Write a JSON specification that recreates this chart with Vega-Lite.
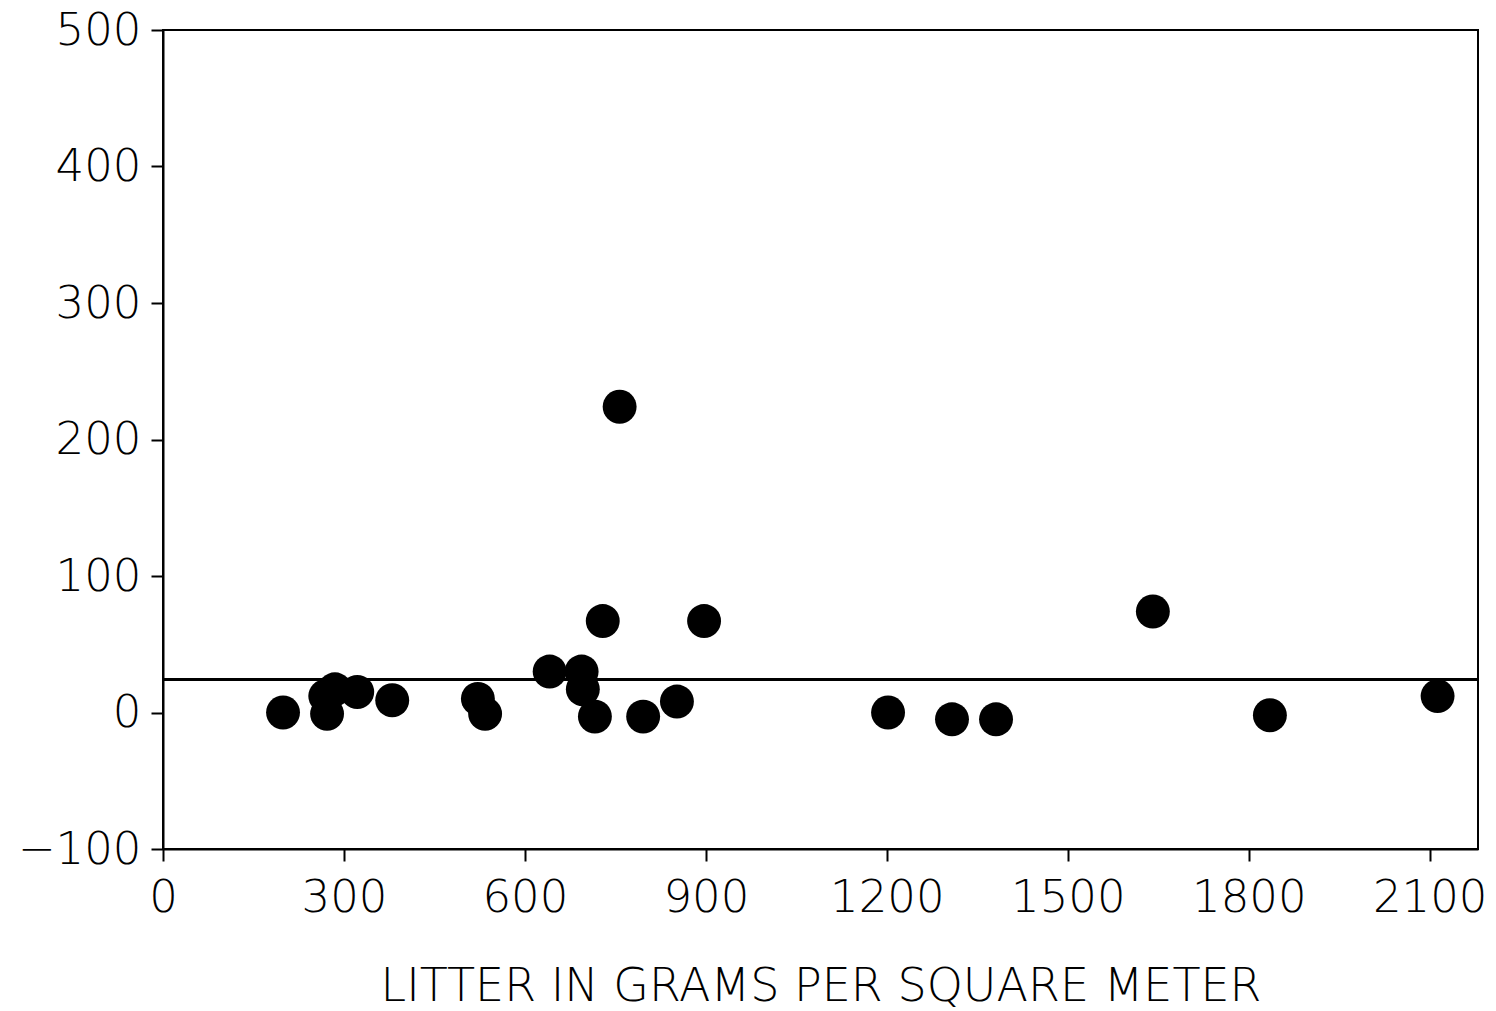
{
  "$schema": "https://vega.github.io/schema/vega-lite/v6.json",
  "width": 1315,
  "height": 819,
  "autosize": {"type": "none"},
  "padding": {"left": 163, "top": 30, "right": 18, "bottom": 162},
  "background": "white",
  "config": {
    "view": {"stroke": "black", "strokeWidth": 2},
    "axis": {
      "domainColor": "black",
      "domainWidth": 2,
      "tickColor": "black",
      "tickWidth": 2,
      "tickSize": 12,
      "grid": false,
      "labelFont": "DejaVu Sans",
      "labelFontWeight": 200,
      "labelFontSize": 45,
      "labelColor": "black",
      "titleFont": "DejaVu Sans",
      "titleFontWeight": 200,
      "titleFontSize": 46,
      "titleColor": "black"
    }
  },
  "data": {
    "values": [
      {"litter": 199, "value": 0},
      {"litter": 269, "value": 12},
      {"litter": 272, "value": -1},
      {"litter": 285, "value": 17},
      {"litter": 322, "value": 15},
      {"litter": 380, "value": 9},
      {"litter": 522, "value": 10},
      {"litter": 534, "value": -1},
      {"litter": 641, "value": 30},
      {"litter": 694, "value": 30},
      {"litter": 696, "value": 17},
      {"litter": 716, "value": -3},
      {"litter": 729, "value": 67},
      {"litter": 757, "value": 224},
      {"litter": 796, "value": -3},
      {"litter": 852, "value": 8},
      {"litter": 897, "value": 67},
      {"litter": 1202, "value": 0},
      {"litter": 1308, "value": -5},
      {"litter": 1381, "value": -5},
      {"litter": 1641, "value": 74},
      {"litter": 1835, "value": -2},
      {"litter": 2113, "value": 12}
    ]
  },
  "layer": [
    {
      "mark": {"type": "rule", "color": "black", "strokeWidth": 2},
      "encoding": {"y": {"datum": 24, "type": "quantitative"}}
    },
    {
      "mark": {"type": "circle", "color": "black", "opacity": 1, "size": 1150},
      "encoding": {
        "x": {
          "field": "litter",
          "type": "quantitative",
          "scale": {"domain": [0, 2180], "nice": false, "zero": false},
          "axis": {
            "values": [0, 300, 600, 900, 1200, 1500, 1800, 2100],
            "title": "LITTER IN GRAMS PER SQUARE METER",
            "labelPadding": 14,
            "titlePadding": 44,
            "format": "d",
            "labelFlush": false
          }
        },
        "y": {
          "field": "value",
          "type": "quantitative",
          "scale": {"domain": [-100, 500], "nice": false, "zero": false},
          "axis": {
            "values": [-100, 0, 100, 200, 300, 400, 500],
            "title": null,
            "labelPadding": 10,
            "format": "d",
            "labelFlush": false
          }
        }
      }
    }
  ]
}
